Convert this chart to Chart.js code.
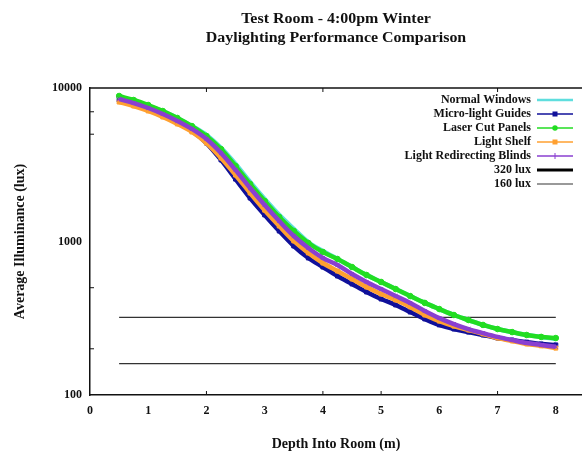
<!DOCTYPE html>
<html><head><meta charset="utf-8">
<script src="https://cdn.jsdelivr.net/npm/chart.js@4.4.1/dist/chart.umd.min.js"></script>
<style>html,body{margin:0;padding:0;background:#fff}</style>
</head><body>
<canvas id="c" width="582" height="451"></canvas>
<script>
const titleLines = ['Test Room - 4:00pm Winter', 'Daylighting Performance Comparison'];
const xTitle = 'Depth Into Room (m)';
const yTitle = 'Average Illuminance (lux)';

const depth = [0.5,0.75,1,1.25,1.5,1.75,2,2.25,2.5,2.75,3,3.25,3.5,3.75,4,4.25,4.5,4.75,5,5.25,5.5,5.75,6,6.25,6.5,6.75,7,7.25,7.5,7.75,8];
const normalWindows = [8740,8230,7630,7080,6380,5650,4940,4070,3200,2440,1890,1490,1210,990,867,769,682,605,545,490,441,398,363,332,308,286,269,257,246,239,232];
const microLightGuides = [8350,7870,7300,6670,6000,5250,4380,3400,2550,1920,1490,1170,935,781,682,596,529,469,422,386,347,313,286,269,257,246,235,228,221,215,212];
const laserCutPanels = [8870,8350,7750,7080,6380,5650,4870,4000,3100,2370,1835,1444,1171,978,854,769,682,605,545,490,441,398,363,332,308,286,269,257,246,239,235];
const lightShelf = [8100,7630,7080,6470,5830,5170,4380,3500,2710,2070,1600,1262,1008,842,724,642,570,505,455,416,375,332,303,281,265,250,235,225,215,209,202];
const lightRedirectingBlinds = [8480,7980,7410,6770,6100,5410,4650,3770,2920,2230,1730,1360,1086,907,781,703,614,545,490,441,398,353,317,290,269,253,239,228,218,212,206];
const thresholdDepth = [0.5, 8];
const lux320 = [320, 320];
const lux160 = [160, 160];

const xTicks = [0,1,2,3,4,5,6,7,8];
const yTicks = [100, 1000, 10000];
const bottomMarks = [2,4,5,7];
const topMarks = [2,4,7];
const leftMarks = [200,500,5000,7000];

const FONT = "'Liberation Serif', 'Times New Roman', serif";
const pts = (xs, ys) => xs.map((x, i) => ({x, y: ys[i]}));

const series = [
  {label:'Normal Windows', data:normalWindows, color:'#5fdede', marker:false, order:5},
  {label:'Micro-light Guides', data:microLightGuides, color:'#10109a', marker:'rect', order:4},
  {label:'Laser Cut Panels', data:laserCutPanels, color:'#22dd22', marker:'circle', order:3},
  {label:'Light Shelf', data:lightShelf, color:'#ffa030', marker:'rect', order:2},
  {label:'Light Redirecting Blinds', data:lightRedirectingBlinds, color:'#8a3fd0', marker:'crossRot', order:1}
];

const datasets = series.map(s => ({
  label: s.label,
  data: pts(depth, s.data),
  borderColor: s.color,
  backgroundColor: s.color,
  borderWidth: 4.5,
  pointStyle: s.marker || 'circle',
  pointRadius: s.marker ? 2.8 : 0,
  pointBorderWidth: 1,
  cubicInterpolationMode: 'monotone',
  order: s.order
}));
datasets.push({label:'320 lux', data: pts(thresholdDepth, lux320), borderColor:'#333', borderWidth:1.3, pointRadius:0, order:6});
datasets.push({label:'160 lux', data: pts(thresholdDepth, lux160), borderColor:'#333', borderWidth:1.3, pointRadius:0, order:6});

const legendStyle = [
  {color:'#5fdede', w:2.5, marker:null},
  {color:'#10109a', w:1.5, marker:'rect'},
  {color:'#22dd22', w:1.5, marker:'circle'},
  {color:'#ffa030', w:1.5, marker:'rect'},
  {color:'#8a3fd0', w:1.5, marker:'plus'},
  {color:'#000', w:3, marker:null},
  {color:'#777', w:1.5, marker:null}
];

const decor = {
  id: 'decor',
  afterDraw(chart) {
    const ctx = chart.ctx, a = chart.chartArea;
    const xs = chart.scales.x, ys = chart.scales.y;
    ctx.save();
    ctx.fillStyle = '#111';
    ctx.font = "bold 14.5px " + FONT;
    ctx.textAlign = 'center'; ctx.textBaseline = 'middle';
    const cx = (a.left + a.right) / 2;
    const sx = 1.1;
    ctx.save(); ctx.scale(sx, 1);
    ctx.fillText(titleLines[0], cx / sx, 19);
    ctx.fillText(titleLines[1], cx / sx, 38);
    ctx.restore();
    ctx.strokeStyle = '#111'; ctx.lineWidth = 1.5;
    ctx.beginPath(); ctx.moveTo(a.left, a.top); ctx.lineTo(a.right, a.top); ctx.stroke();
    ctx.lineWidth = 1;
    ctx.beginPath();
    bottomMarks.forEach(v => { const p = xs.getPixelForValue(v); ctx.moveTo(p, a.bottom); ctx.lineTo(p, a.bottom - 4); });
    topMarks.forEach(v => { const p = xs.getPixelForValue(v); ctx.moveTo(p, a.top); ctx.lineTo(p, a.top + 4); });
    leftMarks.forEach(v => { const p = ys.getPixelForValue(v); ctx.moveTo(a.left, p); ctx.lineTo(a.left + 4, p); });
    ctx.stroke();
    const labels = chart.data.datasets.map(d => d.label);
    ctx.font = "bold 12px " + FONT;
    ctx.textAlign = 'right';
    labels.forEach((lab, i) => {
      const y = a.top + 12 + i * 14;
      const st = legendStyle[i];
      ctx.fillStyle = '#111';
      ctx.fillText(lab, 531, y);
      ctx.strokeStyle = st.color; ctx.lineWidth = st.w;
      ctx.beginPath(); ctx.moveTo(537, y); ctx.lineTo(573, y); ctx.stroke();
      const mx = 555;
      ctx.fillStyle = st.color; ctx.strokeStyle = st.color; ctx.lineWidth = 1;
      if (st.marker === 'rect') ctx.fillRect(mx - 2.5, y - 2.5, 5, 5);
      else if (st.marker === 'circle') { ctx.beginPath(); ctx.arc(mx, y, 2.7, 0, Math.PI*2); ctx.fill(); }
      else if (st.marker === 'plus') { ctx.beginPath(); ctx.moveTo(mx, y-3); ctx.lineTo(mx, y+3); ctx.stroke(); }
    });
    ctx.restore();
  }
};

new Chart(document.getElementById('c'), {
  type: 'line',
  data: { datasets },
  options: {
    responsive: false,
    animation: false,
    devicePixelRatio: 1,
    layout: { autoPadding: false, padding: { top: 88, right: 0, left: 0, bottom: 0 } },
    plugins: { legend: { display: false }, title: { display: false }, tooltip: { enabled: false } },
    scales: {
      x: {
        type: 'linear', min: 0, max: 8.45,
        afterBuildTicks: s => { s.ticks = xTicks.map(v => ({value: v})); },
        afterFit: s => { s.height = 56; },
        grid: { display: false, drawTicks: false },
        border: { display: true, color: '#111', width: 1.5 },
        ticks: { color: '#111', padding: 9, font: { family: FONT, size: 12, weight: 'bold' }, maxRotation: 0, callback: v => String(v) },
        title: { display: true, text: xTitle, color: '#111', font: { family: FONT, size: 14, weight: 'bold', lineHeight: 0.9 }, padding: { top: 0, bottom: 0 } }
      },
      y: {
        type: 'logarithmic', min: 100, max: 10000,
        afterBuildTicks: s => { s.ticks = yTicks.map(v => ({value: v})); },
        afterFit: s => { s.width = 90; },
        grid: { display: false, drawTicks: false },
        border: { display: true, color: '#111', width: 1.5 },
        ticks: { color: '#111', padding: 8, font: { family: FONT, size: 12, weight: 'bold' }, callback: v => String(v) },
        title: { display: true, text: yTitle, color: '#111', font: { family: FONT, size: 14, weight: 'bold' }, padding: { top: 12, bottom: 0 } }
      }
    }
  },
  plugins: [decor]
});
</script>
</body></html>
